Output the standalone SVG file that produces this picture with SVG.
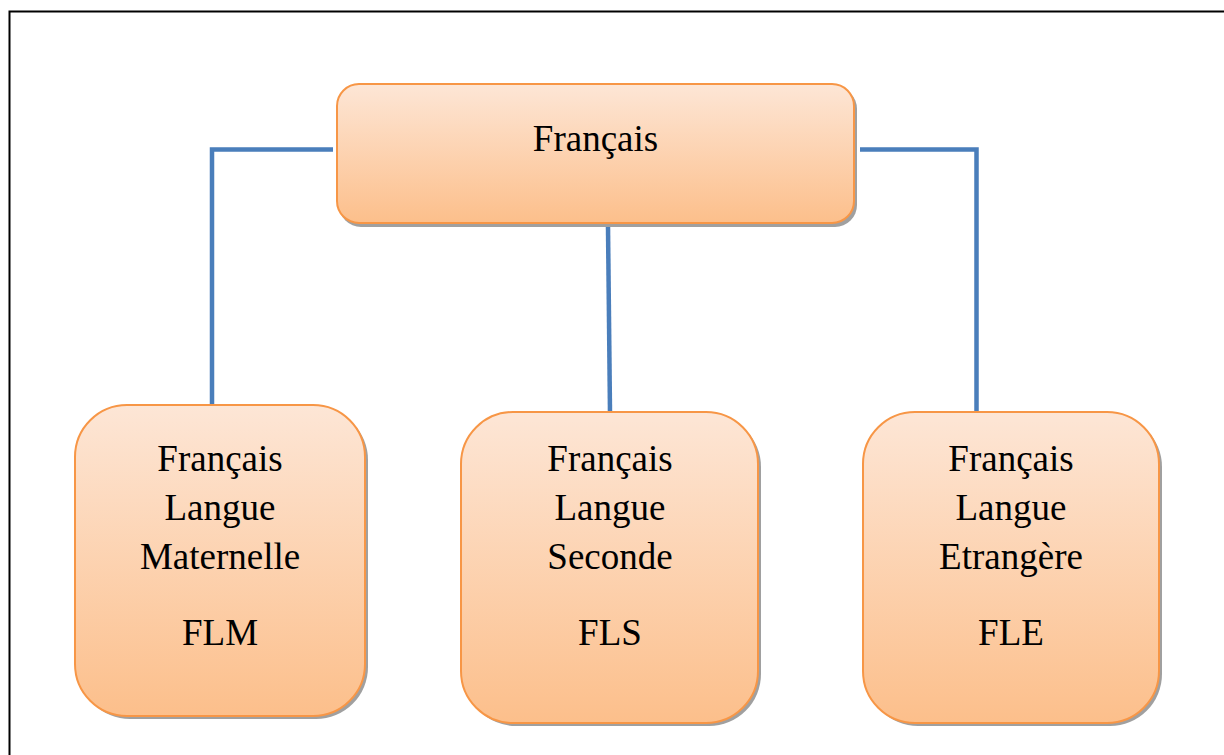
<svg xmlns="http://www.w3.org/2000/svg" width="1224" height="755" viewBox="0 0 1224 755">
  <defs>
    <linearGradient id="fill" x1="0" y1="0" x2="0" y2="1">
      <stop offset="0" stop-color="#fde6d6"/>
      <stop offset="1" stop-color="#fcbf8b"/>
    </linearGradient>
    <style>
      .box { fill: url(#fill); stroke: #f79646; stroke-width: 2; }
      .shadow { fill: #a0a0a0; }
      .link { fill: none; stroke: #4a7ebb; stroke-width: 4.5; }
      .lbl { font-family: "Liberation Serif", "DejaVu Serif", serif; font-size: 37px; fill: #000; text-anchor: middle; }
    </style>
  </defs>
  <rect x="0" y="0" width="1224" height="755" fill="#fff"/>
  <!-- page frame -->
  <path d="M9.5 755 V11.5 H1224" fill="none" stroke="#000" stroke-width="2"/>

  <g id="connectors">
    <path class="link" d="M333 149.5 H212 V405"/>
    <path class="link" d="M608 226 L610 412"/>
    <path class="link" d="M860 149.5 H976.5 V412"/>
  </g>

  <g id="francais">
    <rect class="shadow" x="339" y="87" width="518" height="140" rx="22"/>
    <rect class="box" x="337" y="84" width="517" height="139" rx="22"/>
    <text class="lbl" x="595.5" y="151">Français</text>
  </g>

  <g id="flm">
    <rect class="shadow" x="78" y="408" width="290" height="311" rx="52"/>
    <rect class="box" x="75" y="405" width="290" height="311" rx="52"/>
    <text class="lbl" x="220" y="471">Français</text>
    <text class="lbl" x="220" y="520">Langue</text>
    <text class="lbl" x="220" y="569">Maternelle</text>
    <text class="lbl" x="220" y="645">FLM</text>
  </g>

  <g id="fls">
    <rect class="shadow" x="464" y="415" width="297" height="311" rx="52"/>
    <rect class="box" x="461" y="412" width="297" height="311" rx="52"/>
    <text class="lbl" x="610" y="471">Français</text>
    <text class="lbl" x="610" y="520">Langue</text>
    <text class="lbl" x="610" y="569">Seconde</text>
    <text class="lbl" x="610" y="645">FLS</text>
  </g>

  <g id="fle">
    <rect class="shadow" x="866" y="415" width="296" height="311" rx="52"/>
    <rect class="box" x="863" y="412" width="296" height="311" rx="52"/>
    <text class="lbl" x="1011" y="471">Français</text>
    <text class="lbl" x="1011" y="520">Langue</text>
    <text class="lbl" x="1011" y="569">Etrangère</text>
    <text class="lbl" x="1011" y="645">FLE</text>
  </g>
</svg>
